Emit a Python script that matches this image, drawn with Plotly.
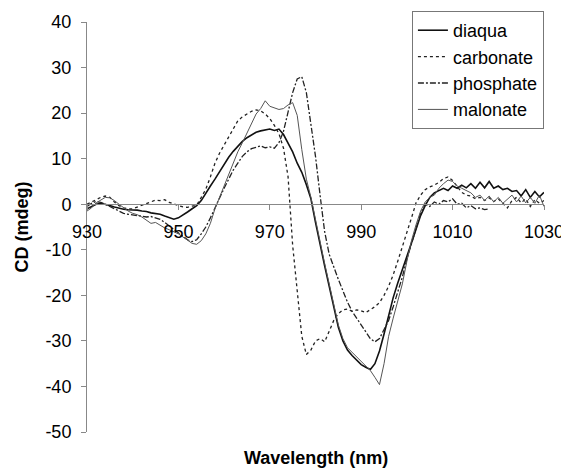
import plotly.graph_objects as go

wavelength = list(range(930, 1031))

diaqua = [
    -1.0, -0.5, 0.0, 0.2, 0.0, -0.3, -0.6, -0.9, -1.1, -1.2,
    -1.2, -1.3, -1.5, -1.6, -1.9, -2.0, -2.2, -2.6, -3.0, -3.3,
    -3.0, -2.4, -1.7, -1.0, -0.3, 0.8, 2.5, 4.0, 5.5, 7.2,
    8.8, 10.3, 11.6, 12.8, 13.8, 14.6, 15.2, 15.8, 16.1, 16.3,
    16.5, 16.2, 16.5, 15.3, 13.5, 11.5, 9.0, 7.0, 4.3, 1.2,
    -4.0, -9.0, -13.5, -18.0, -22.5, -27.0, -30.0, -32.0, -33.2, -34.3,
    -35.2, -35.8, -36.3, -35.0, -32.2, -28.5, -24.5, -20.5, -17.3, -14.5,
    -11.5, -8.5, -5.5, -2.5, -0.3, 1.5, 2.5, 3.0, 3.5, 3.0,
    4.0, 3.5, 4.2, 3.6, 4.5, 3.5, 4.8, 3.6, 5.0, 3.5,
    4.0, 3.2, 3.5, 2.8, 3.0, 1.8, 3.2, 1.5, 2.8, 1.6,
    2.6,
]

carbonate = [
    0.0, 0.5, 1.0, 1.5, 1.8, 1.5, 0.5, -0.3, -0.8, -1.0,
    -1.0, -0.6, -0.2, 0.2, 0.6, 0.9, 0.8, 1.0, 0.4, 0.0,
    -0.3, -0.6, -0.7, -0.4, -0.2, 1.5, 3.3, 6.0, 9.0, 11.2,
    13.0, 15.0, 16.8, 18.3, 19.2, 19.8, 20.4, 20.7, 20.5, 19.8,
    18.8, 17.3, 15.5, 12.3, 6.0, -9.0, -19.4, -29.0, -33.0, -32.0,
    -30.0, -29.5, -30.2, -28.0, -25.5, -24.0, -23.2, -23.0, -23.5, -23.2,
    -23.4, -23.8, -23.2, -22.5, -21.6, -20.0, -18.0, -15.5, -12.5, -9.5,
    -6.2, -3.0, 0.3, 2.0, 3.2, 3.8, 4.2, 4.8, 5.6, 6.0,
    5.2, 4.0, 2.6, 2.0, 1.8, 1.2, 1.5, 0.8, 1.4, 0.6,
    1.2, 0.2, -0.8, 0.8, 1.5, 0.3, 1.2, -0.5, 1.0, 0.2,
    0.8,
]

phosphate = [
    -0.5, 0.2, 0.6, 0.4, 0.0, -0.5, -1.0, -1.5, -2.0, -2.2,
    -2.4, -2.5, -2.6, -2.8, -2.7, -3.0, -3.3, -4.0, -4.8, -5.5,
    -6.3, -7.0, -7.8, -8.2, -7.8, -6.5, -5.0, -3.0, -0.8, 1.5,
    3.5, 5.5, 7.5, 9.0, 10.5, 11.5, 12.2, 12.5, 12.8, 12.4,
    12.6, 12.3, 13.5, 16.0, 20.0, 24.5, 27.5, 28.0, 24.5, 17.5,
    10.5, 2.0, -6.0, -11.0, -14.0, -16.5, -19.0, -21.5, -23.5, -25.0,
    -26.5, -28.0, -29.5, -30.2, -29.5, -27.5, -25.5, -22.5, -19.5, -16.0,
    -12.0, -8.5, -5.0, -2.0, 0.0, -0.5, 0.5, 0.0, 0.8, 0.5,
    1.2, 0.0, 0.2, -0.8, -0.3, -1.0, -0.8, -1.2, -1.0,
]

malonate = [
    -1.5, -0.8, 0.3, 1.0, 1.5, 1.4, 0.8, 0.0, -0.8, -1.5,
    -2.0, -2.3, -2.8, -3.5, -4.2, -4.0, -4.6, -5.2, -5.6, -6.0,
    -6.5, -7.2, -8.0, -8.6, -8.8, -8.0, -6.5, -4.2, -1.0, 1.5,
    4.0, 6.5, 9.0, 11.5, 13.5, 15.5, 17.8, 19.8, 21.0, 22.7,
    21.5, 21.2, 20.8, 21.0, 21.8, 22.3, 19.5, 12.0, 5.5, 1.5,
    -3.5, -8.5, -13.0, -17.5, -22.0, -26.5, -29.5, -31.5, -32.5, -33.5,
    -34.5, -35.5, -36.5, -38.0, -39.6, -35.0, -29.0, -25.0, -21.5, -17.5,
    -12.5, -8.0, -4.5, -1.5, 0.5, 1.5, 2.0, 3.5, 4.5, 5.3,
    5.0, 4.0, 3.5, 3.0, 2.5, 1.5, 2.0, 0.8, 1.8, 0.5,
    1.5, 0.2, 1.0, 2.0, 0.5, 1.8, 0.3, 1.5, 0.2, 2.0,
    -0.5,
]

series_names = ["diaqua", "carbonate", "phosphate", "malonate"]
series_values = [diaqua, carbonate, phosphate, malonate]
series_dash = ["solid", "dot", "6px,2px,2px,2px", "solid"]
series_width = [1.6, 1.3, 1.3, 1.0]
series_color = ["#111111", "#222222", "#222222", "#555555"]

x_ticks = [930, 950, 970, 990, 1010, 1030]
y_ticks = [40, 30, 20, 10, 0, -10, -20, -30, -40, -50]

FONT = "Liberation Sans, Arial, sans-serif"

fig = go.Figure()
for name, vals, dash, w, c in zip(series_names, series_values, series_dash, series_width, series_color):
    fig.add_trace(go.Scatter(
        x=wavelength[:len(vals)], y=vals, mode="lines", name=name,
        line=dict(color=c, width=w, dash=dash),
    ))

# the page body adds an 8px margin, so the figure is sized to fill the rest
fig.update_layout(
    width=561, height=467,
    margin=dict(l=79, r=25, t=14, b=43, autoexpand=False),
    paper_bgcolor="white", plot_bgcolor="white",
    font=dict(family=FONT, size=18, color="black"),
    showlegend=True,
    legend=dict(
        x=0.711, y=1.0268, xanchor="left", yanchor="top",
        bgcolor="white", bordercolor="#777777", borderwidth=1,
        font=dict(family=FONT, size=18, color="black"),
        itemwidth=30, tracegroupgap=0,
    ),
    xaxis=dict(
        range=[930, 1030], tickvals=x_ticks, ticktext=[str(v) for v in x_ticks],
        anchor="free", position=50 / 90, automargin=False,
        showline=True, linecolor="#888888", linewidth=1,
        ticks="outside", ticklen=5, tickcolor="#888888",
        ticklabelstandoff=6,
        showgrid=False, zeroline=False,
        tickfont=dict(family=FONT, size=18, color="black"),
    ),
    yaxis=dict(
        range=[-50, 40], tickvals=y_ticks, ticktext=[str(v) for v in y_ticks],
        domain=[0, 1], automargin=False,
        showline=True, linecolor="#888888", linewidth=1,
        ticks="outside", ticklen=5, tickcolor="#888888",
        ticklabelstandoff=6,
        showgrid=False, zeroline=False,
        tickfont=dict(family=FONT, size=18, color="black"),
        title=dict(text="CD (mdeg)", font=dict(family=FONT, size=18, color="black", weight="bold"), standoff=12),
    ),
    annotations=[dict(
        text="Wavelength (nm)", xref="paper", yref="paper", x=0.5, y=-0.0634,
        xanchor="center", yanchor="middle", showarrow=False,
        font=dict(family=FONT, size=18, color="black", weight="bold"),
    )],
)

fig.write_html("out.html")
